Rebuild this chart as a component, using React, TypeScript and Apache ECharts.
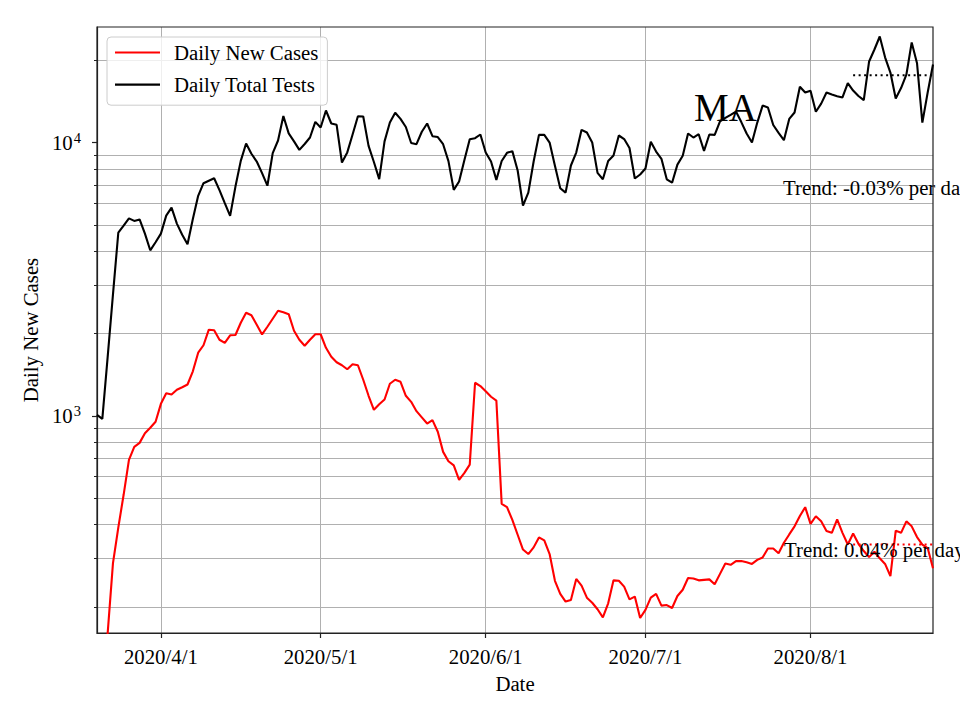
import React, { useEffect, useRef } from "react";
import * as echarts from "echarts";

const START = { y: 2020, m: 3, d: 20 };
const DAY_COUNT = 158;

const dailyTests: number[] = [
  1008, 975, 1640, 2780, 4677, 4966, 5280, 5166, 5230, 4642,
  4033, 4315, 4642, 5400, 5780, 5050, 4600, 4241, 5250, 6381,
  7100, 7250, 7400, 6700, 6000, 5390, 6900, 8570, 9916, 9100,
  8520, 7730, 6950, 9150, 10170, 12500, 10800, 10100, 9400, 9880,
  10430, 11900, 11350, 13100, 11740, 11610, 8450, 9200, 10700, 12484,
  12450, 9725, 8490, 7350, 10100, 11830, 12850, 12200, 11400, 9960,
  9860, 10950, 11740, 10550, 10470, 9860, 8550, 6712, 7200, 8630,
  10283, 10370, 10700, 9190, 8520, 7300, 8560, 9170, 9300, 7900,
  5880, 6556, 8520, 10670, 10670, 10000, 8218, 6805, 6556, 8240,
  9190, 11130, 10880, 10000, 7740, 7338, 8560, 8970, 10610, 10300,
  9550, 7383, 7640, 8033, 10060, 9270, 8720, 7338, 7130, 8300,
  8940, 10790, 10430, 10725, 9324, 10700, 10670, 11940, 12300, 12620,
  12980, 11880, 10790, 10000, 11830, 13650, 13440, 11590, 10840, 10197,
  12200, 12880, 16000, 15240, 15460, 12957, 13880, 15240, 14990, 14780,
  14620, 16490, 15500, 14800, 14290, 19800, 21900, 24430, 20500, 18030,
  14500, 15830, 17720, 23230, 19500, 11830, 15240, 19300,
];

const dailyCases: number[] = [
  40, 90, 160, 289, 390, 514, 690, 770, 796, 863,
  904, 951, 1106, 1209, 1197, 1245, 1272, 1302, 1455, 1702,
  1812, 2066, 2055, 1898, 1850, 1971, 1975, 2191, 2384, 2333,
  2153, 1985, 2118, 2265, 2424, 2394, 2355, 2048, 1898, 1804,
  1898, 1988, 1988, 1774, 1644, 1570, 1531, 1480, 1543, 1531,
  1355, 1184, 1052, 1102, 1147, 1310, 1355, 1332, 1184, 1125,
  1040, 987, 937, 964, 874, 738, 682, 659, 583, 618,
  663, 1321, 1285, 1230, 1174, 1137, 476, 463, 416, 367,
  324, 312, 330, 359, 350, 312, 249, 223, 209, 212,
  253, 239, 216, 207, 196, 183, 206, 250, 249, 237,
  213, 218, 182, 195, 216, 223, 202, 203, 198, 219,
  231, 255, 254, 250, 251, 252, 242, 264, 288, 285,
  294, 294, 291, 287, 297, 303, 327, 327, 314, 343,
  368, 394, 430, 463, 402, 429, 411, 379, 373, 418,
  373, 338, 371, 340, 320, 304, 318, 301, 287, 259,
  380, 373, 411, 394, 360, 338, 328, 277,
];

// flat trend/MA lines over the last days
const trendStartIndex = 142;
const testsMA = 17640;
const casesMA = 338;

const yMajorTicks = [1000, 10000];
const yMin = 160.4;
const yMax = 26470;

const FONT = "'Liberation Serif', 'Times New Roman', serif";
const FS = 20.8;

function buildDates(): string[] {
  const out: string[] = [];
  const base = new Date(Date.UTC(START.y, START.m - 1, START.d));
  for (let i = 0; i < DAY_COUNT; i++) {
    const dt = new Date(base.getTime() + i * 86400000);
    out.push(`${dt.getUTCFullYear()}/${dt.getUTCMonth() + 1}/${dt.getUTCDate()}`);
  }
  return out;
}

export default function App() {
  const ref = useRef<HTMLDivElement>(null);

  useEffect(() => {
    if (!ref.current) return;
    const chart = echarts.init(ref.current, undefined, { renderer: "svg" });
    const dates = buildDates();
    const isMonthStart = (_i: number, v: string) => /\/1$/.test(v) && !/\/\d1$/.test(v);

    const testsTrend = dates.map((_, i) => (i >= trendStartIndex ? testsMA : null));
    const casesTrend = dates.map((_, i) => (i >= trendStartIndex ? casesMA : null));

    const gridLine = { color: "#b0b0b0", width: 1 };

    chart.setOption({
      animation: false,
      backgroundColor: "#ffffff",
      textStyle: { fontFamily: FONT },
      grid: {
        left: 97,
        right: 27,
        top: 27,
        bottom: 87,
        show: true,
        z: 1,
        backgroundColor: "transparent",
        borderColor: "#222222",
        borderWidth: 1.2,
        containLabel: false,
        outerBoundsMode: "none",
      },
      legend: {
        orient: "vertical",
        left: 107,
        top: 37,
        padding: [5, 9, 10, 8],
        itemGap: 11.2,
        itemWidth: 45,
        itemHeight: 2.2,
        icon: "rect",
        backgroundColor: "rgba(255,255,255,0.8)",
        borderColor: "#cccccc",
        borderWidth: 1,
        borderRadius: 4,
        data: [
          { name: "Daily New Cases", icon: "rect", itemStyle: { color: "#ff0000" } },
          { name: "Daily Total Tests", icon: "rect", itemStyle: { color: "#000000" } },
        ],
        textStyle: {
          fontSize: FS,
          fontFamily: FONT,
          color: "#000",
          lineHeight: 21,
          padding: [0, 0, 0, 9],
        },
      },
      xAxis: {
        type: "category",
        data: dates,
        boundaryGap: false,
        name: "Date",
        nameLocation: "middle",
        nameGap: 40,
        nameTextStyle: { fontSize: FS, fontFamily: FONT, color: "#000" },
        axisLine: { show: true, lineStyle: { color: "#222", width: 1.2 } },
        axisTick: { show: true, interval: isMonthStart, length: 5, lineStyle: { color: "#222", width: 1.2 } },
        axisLabel: {
          interval: isMonthStart,
          fontSize: FS,
          fontFamily: FONT,
          color: "#000",
          margin: 13,
        },
        splitLine: { show: true, interval: isMonthStart, lineStyle: gridLine },
      },
      yAxis: {
        type: "log",
        logBase: 10,
        min: yMin,
        max: yMax,
        name: "Daily New Cases",
        nameLocation: "middle",
        nameGap: 54,
        nameTextStyle: { fontSize: FS, fontFamily: FONT, color: "#000" },
        axisLine: { show: true, lineStyle: { color: "#222", width: 1.2 } },
        axisTick: { show: true, customValues: yMajorTicks, length: 5, lineStyle: { color: "#222", width: 1.2 } },
        minorTick: { show: true, splitNumber: 9, length: 3, lineStyle: { color: "#222", width: 1 } },
        axisLabel: {
          customValues: yMajorTicks,
          margin: 16,
          formatter: (v: number) => {
            const e = Math.round(Math.log10(v));
            return `{b|10}{s|${e}}`;
          },
          rich: {
            b: { fontSize: FS, fontFamily: FONT, color: "#000" },
            s: { fontSize: 14.5, fontFamily: FONT, color: "#000", verticalAlign: "top", padding: [0, 0, 10, 1] },
          },
        },
        splitLine: { show: true, showMinLine: false, showMaxLine: false, lineStyle: gridLine },
        minorSplitLine: { show: true, lineStyle: gridLine },
      },
      series: [
        {
          name: "Daily New Cases",
          type: "line",
          data: dailyCases,
          symbol: "none",
          clip: true,
          z: 3,
          lineStyle: { color: "#ff0000", width: 2.1 },
          itemStyle: { color: "#ff0000" },
        },
        {
          name: "Daily Total Tests",
          type: "line",
          data: dailyTests,
          symbol: "none",
          clip: true,
          z: 3,
          lineStyle: { color: "#000000", width: 2.1 },
          itemStyle: { color: "#000000" },
        },
        {
          name: "tests trend",
          type: "line",
          data: testsTrend,
          symbol: "none",
          clip: true,
          z: 4,
          lineStyle: { color: "#000000", width: 2, type: [2, 3.5] },
        },
        {
          name: "cases trend",
          type: "line",
          data: casesTrend,
          symbol: "none",
          clip: true,
          z: 4,
          lineStyle: { color: "#ff0000", width: 2, type: [2, 3.5] },
        },
      ],
      graphic: [
        {
          type: "text",
          z: 100,
          x: 694,
          y: 107,
          style: { text: "MA", fontSize: 39, fontFamily: FONT, fill: "#000", verticalAlign: "middle", align: "left" },
        },
        {
          type: "text",
          z: 100,
          x: 783,
          y: 187,
          style: { text: "Trend: -0.03% per day", fontSize: FS, fontFamily: FONT, fill: "#000", verticalAlign: "middle", align: "left" },
        },
        {
          type: "text",
          z: 100,
          x: 784,
          y: 549,
          style: { text: "Trend: 0.04% per day", fontSize: FS, fontFamily: FONT, fill: "#000", verticalAlign: "middle", align: "left" },
        },
      ],
    });

    return () => chart.dispose();
  }, []);

  return (
    <div
      ref={ref}
      style={{ position: "fixed", left: 0, top: 0, width: 960, height: 720, background: "#fff" }}
    />
  );
}
